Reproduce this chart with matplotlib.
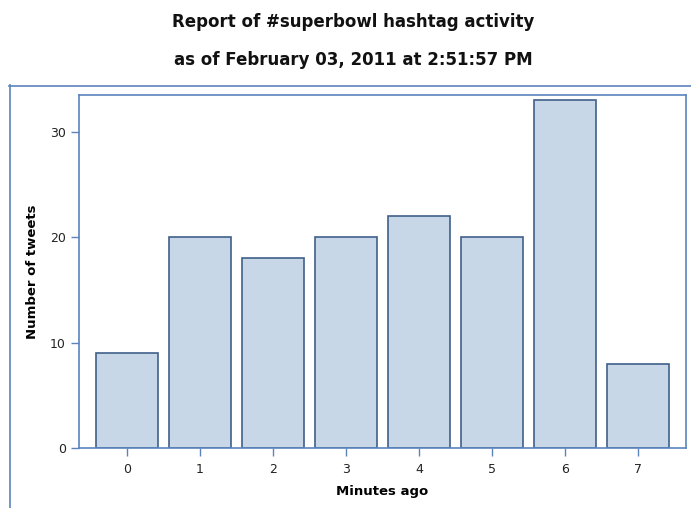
import matplotlib
matplotlib.use("Agg")
import matplotlib.pyplot as plt
from matplotlib.lines import Line2D

minutes = ["0", "1", "2", "3", "4", "5", "6", "7"]
tweets = [9, 20, 18, 20, 22, 20, 33, 8]
yticks = [0, 10, 20, 30]

W, H = 691, 508
fig = plt.figure(figsize=(W / 100, H / 100), dpi=100)
ax = fig.add_axes([79 / W, 1 - 448 / H, (686 - 79) / W, (448 - 95) / H])

frame_col = "#5b84bf"
ax.bar(range(len(tweets)), tweets, width=0.85, color="#c8d7e7",
       edgecolor="#40608a", linewidth=1.2, zorder=2)
ax.set_xlim(-0.66, 7.66)
ax.set_ylim(0, 33.5)
ax.set_xticks(range(len(minutes)))
ax.set_xticklabels(minutes)
ax.set_yticks(yticks)
for s in ax.spines.values():
    s.set_color(frame_col)
    s.set_linewidth(1.2)
ax.tick_params(colors=frame_col, labelcolor="#222222", length=6, width=1,
               labelsize=9)
ax.tick_params(axis="x", pad=5)
ax.set_xlabel("Minutes ago", fontsize=9.5, fontweight="bold", labelpad=6)
ax.set_ylabel("Number of tweets", fontsize=9.5, fontweight="bold", labelpad=8)

fig.add_artist(Line2D([9.5 / W, 9.5 / W], [0, 1 - 85 / H], transform=fig.transFigure,
                      color=frame_col, linewidth=1.2))
fig.add_artist(Line2D([9 / W, 1], [1 - 85.5 / H, 1 - 85.5 / H], transform=fig.transFigure,
                      color=frame_col, linewidth=1.2))

fig.text(353 / W, 1 - 22 / H, "Report of #superbowl hashtag activity",
         ha="center", va="center", fontsize=12, fontweight="bold", color="#111111")
fig.text(353 / W, 1 - 60 / H, "as of February 03, 2011 at 2:51:57 PM",
         ha="center", va="center", fontsize=12, fontweight="bold", color="#111111")

fig.savefig("out.png", dpi=100)
